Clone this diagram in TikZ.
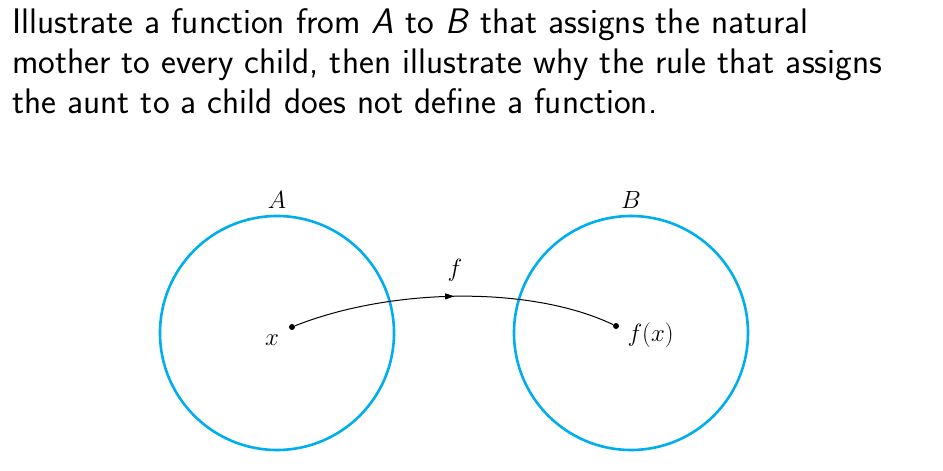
\documentclass[tikz,border=0pt]{standalone}
\usetikzlibrary{decorations.markings,arrows.meta}
\definecolor{setcyan}{RGB}{0,174,239}
\begin{document}
\begin{tikzpicture}[x=1pt,y=-1pt,
  setc/.style={draw=setcyan,line width=2.6pt},
  lbl/.style={font=\fontsize{23}{23}\selectfont},
  dotp/.style={circle,fill=black,inner sep=0pt,minimum size=6pt}]
\useasboundingbox (0,0) rectangle (943,471);
\node[anchor=north west,inner sep=0pt,align=left,
  font=\sffamily\fontsize{35.5}{40}\selectfont] (q) at (12,8)
  {Illustrate a function from \textit{A} to \textit{B} that assigns the natural\\ mother to every child, then illustrate why the rule that assigns\\ the aunt to a child does not define a function.};
\node[setc,circle,minimum size=234pt,inner sep=0pt] (A) at (277,333) {};
\node[setc,circle,minimum size=234pt,inner sep=0pt] (B) at (631,333) {};
\node[lbl] (la) at (277,200) {$A$};
\node[lbl] (lb) at (631,200) {$B$};
\node[dotp] (x) at (292,327) {};
\node[dotp] (fx) at (616,326) {};
\node[lbl] (lx) at (272,340) {$x$};
\node[lbl,anchor=west] (lfx) at (624,335) {$f(x)$};
\node[lbl] (lf) at (455,270) {$f$};
\draw[line width=1pt,decoration={markings,mark=at position 0.5 with {\arrow{Triangle[length=9pt,width=6pt]}}},postaction=decorate]
  (x) .. controls (390,288) and (530,285) .. (fx);
\end{tikzpicture}
\end{document}
